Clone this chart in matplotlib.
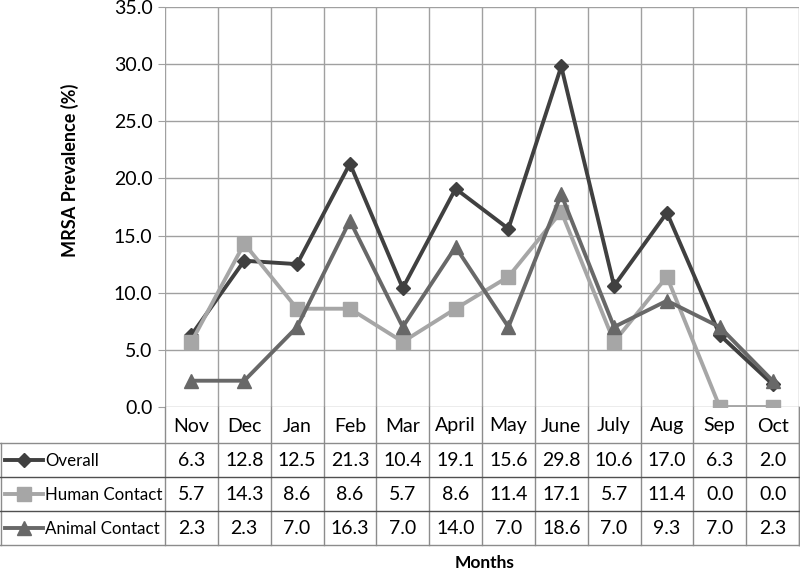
import matplotlib
matplotlib.use("Agg")
import matplotlib.pyplot as plt
from matplotlib.lines import Line2D

months = ["Nov", "Dec", "Jan", "Feb", "Mar", "April", "May", "June", "July", "Aug", "Sep", "Oct"]
overall = [6.3, 12.8, 12.5, 21.3, 10.4, 19.1, 15.6, 29.8, 10.6, 17.0, 6.3, 2.0]
human = [5.7, 14.3, 8.6, 8.6, 5.7, 8.6, 11.4, 17.1, 5.7, 11.4, 0.0, 0.0]
animal = [2.3, 2.3, 7.0, 16.3, 7.0, 14.0, 7.0, 18.6, 7.0, 9.3, 7.0, 2.3]
series_names = ["Overall", "Human Contact", "Animal Contact"]
yticks = [0, 5, 10, 15, 20, 25, 30, 35]

colors = ["#404040", "#a6a6a6", "#686868"]
markers = ["D", "s", "^"]
msizes = [7, 10, 10]

plt.rcParams['font.family'] = ['Lato', 'DejaVu Sans']

W, H = 800, 570
fig = plt.figure(figsize=(8, 5.7), dpi=100)

L, R, T, B = 165, 799, 7, 407
ax = fig.add_axes([L / W, 1 - B / H, (R - L) / W, (B - T) / H])
n = len(months)
x = list(range(n))
grid_c = "#a0a0a0"

ax.set_xlim(-0.5, n - 0.5)
ax.set_ylim(0, 35)
ax.set_yticks(yticks)
ax.set_yticklabels([f"{v:.1f}" for v in yticks], fontsize=14)
ax.set_xticks([])
for v in yticks:
    ax.axhline(v, color=grid_c, lw=1.0, zorder=0)
for i in range(n + 1):
    ax.axvline(i - 0.5, color=grid_c, lw=1.0, zorder=0)
for s in ax.spines.values():
    s.set_visible(False)
ax.tick_params(axis='y', length=5, color=grid_c, pad=4)

data = [overall, human, animal]
for vals, c, m, ms in zip(data, colors, markers, msizes):
    ax.plot(x, vals, color=c, lw=2.8, marker=m, markersize=ms, markeredgecolor=c, zorder=3)

fig.text(70 / W, 1 - 170 / H, "MRSA Prevalence (%)", rotation=90, ha='center', va='center',
         fontsize=13, fontweight='bold')

# data table
rows_y = [407, 443, 477, 511, 545]
tax = fig.add_axes([0, 0, 1, 1])
tax.set_xlim(0, W)
tax.set_ylim(H, 0)
tax.axis('off')
cw = (R - L) / n
line_c = "#8c8c8c"
dark_c = "#505050"
for i in range(n + 1):
    xx = L + i * cw
    tax.plot([xx, xx], [rows_y[0], rows_y[4]], color=line_c, lw=1.0)
tax.plot([0.5, 0.5], [rows_y[1], rows_y[4]], color=line_c, lw=1.0)
tax.plot([R, R], [rows_y[0], rows_y[4]], color=line_c, lw=1.0)
for k in range(1, 5):
    tax.plot([0, R], [rows_y[k], rows_y[k]], color=dark_c if k in (2, 3) else line_c, lw=1.0)

for i, mth in enumerate(months):
    cx = L + (i + 0.5) * cw
    tax.text(cx, (rows_y[0] + rows_y[1]) / 2 + 1, mth, ha='center', va='center', fontsize=14)
    for k, vals in enumerate(data):
        cy = (rows_y[k + 1] + rows_y[k + 2]) / 2 + 1
        tax.text(cx, cy, f"{vals[i]:.1f}", ha='center', va='center', fontsize=14)

for k, (name, c, m, ms) in enumerate(zip(series_names, colors, markers, msizes)):
    cy = (rows_y[k + 1] + rows_y[k + 2]) / 2
    tax.add_line(Line2D([5, 43], [cy, cy], color=c, lw=2.8))
    tax.add_line(Line2D([24], [cy], marker=m, markersize=ms, color=c, markeredgecolor=c))
    tax.text(45, cy + 1, name, ha='left', va='center', fontsize=12.2)

fig.text(485 / W, 1 - 563 / H, "Months", ha='center', va='center', fontsize=12.5, fontweight='bold')

fig.savefig("out.png", dpi=100)
